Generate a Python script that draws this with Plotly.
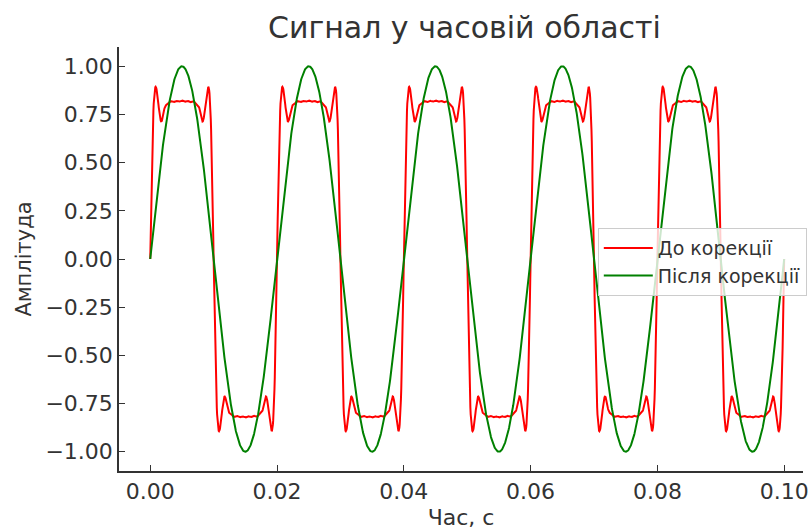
import numpy as np
import plotly.graph_objects as go

# --- data -------------------------------------------------------------
base_freq_hz = 50.0
duration_s = 0.1
n_samples = 2001
# odd harmonic orders and amplitudes of the signal before correction
harmonic_orders = [1, 3, 5, 7, 9, 11, 13, 15, 17, 19, 21]
harmonic_amps_before = [1.0223, 0.3139, 0.1969, 0.1537, 0.1093, 0.0589,
                        0.0221, 0.0057, 0.0039, 0.0066, 0.0065]
# signal after correction: only the fundamental remains
harmonic_orders_after = [1]
harmonic_amps_after = [1.0]

series_names = ["До корекції", "Після корекції"]
x_ticks = [0.00, 0.02, 0.04, 0.06, 0.08, 0.10]
y_ticks = [-1.00, -0.75, -0.50, -0.25, 0.00, 0.25, 0.50, 0.75, 1.00]

# --- build signals ----------------------------------------------------
t = np.linspace(0, duration_s, n_samples)
w0 = 2 * np.pi * base_freq_hz
before = np.zeros_like(t)
for n, a in zip(harmonic_orders, harmonic_amps_before):
    before += a * np.sin(n * w0 * t)
after = np.zeros_like(t)
for n, a in zip(harmonic_orders_after, harmonic_amps_after):
    after += a * np.sin(n * w0 * t)

FONT = "DejaVu Sans"
TXT = "#333333"
AX = "#333333"

fig = go.Figure()
fig.add_trace(go.Scatter(x=t, y=before, mode="lines", name=series_names[0],
                         line=dict(color="#ff0000", width=2)))
fig.add_trace(go.Scatter(x=t, y=after, mode="lines", name=series_names[1],
                         line=dict(color="#008000", width=2)))

fig.update_layout(
    width=809, height=531,
    margin=dict(l=119, r=0, t=47, b=60),
    plot_bgcolor="white", paper_bgcolor="white",
    font=dict(family=FONT, color=TXT, size=22),
    title=dict(text="Сигнал у часовій області", x=0.505, xref="paper", xanchor="center",
               y=1 - 27 / 531, yref="container", yanchor="middle",
               font=dict(family=FONT, size=30, color=TXT)),
    showlegend=True,
    legend=dict(x=0.700, y=0.573, xanchor="left", yanchor="top",
                itemwidth=49,
                bgcolor="rgba(255,255,255,0.8)", bordercolor="#cccccc", borderwidth=1,
                font=dict(family=FONT, size=19, color=TXT)),
)
fig.update_xaxes(
    range=[-0.004926, 0.10297], tickvals=x_ticks, tickformat=".2f",
    ticklabeloverflow="allow",
    showline=True, linecolor=AX, linewidth=1.5, mirror=False,
    ticks="inside", ticklen=6, tickwidth=1.2, tickcolor=AX,
    showgrid=False, zeroline=False,
    tickfont=dict(size=22, color=TXT),
    title=dict(text="Час, с", font=dict(size=22, color=TXT), standoff=6),
)
fig.update_yaxes(
    range=[-1.1, 1.1], tickvals=y_ticks, tickformat=".2f",
    showline=True, linecolor=AX, linewidth=1.5, mirror=False,
    ticks="inside", ticklen=6, tickwidth=1.2, tickcolor=AX,
    showgrid=False, zeroline=False,
    tickfont=dict(size=22, color=TXT),
    title=dict(text="Амплітуда", font=dict(size=21, color=TXT), standoff=8),
)
fig.write_html("out.html")
